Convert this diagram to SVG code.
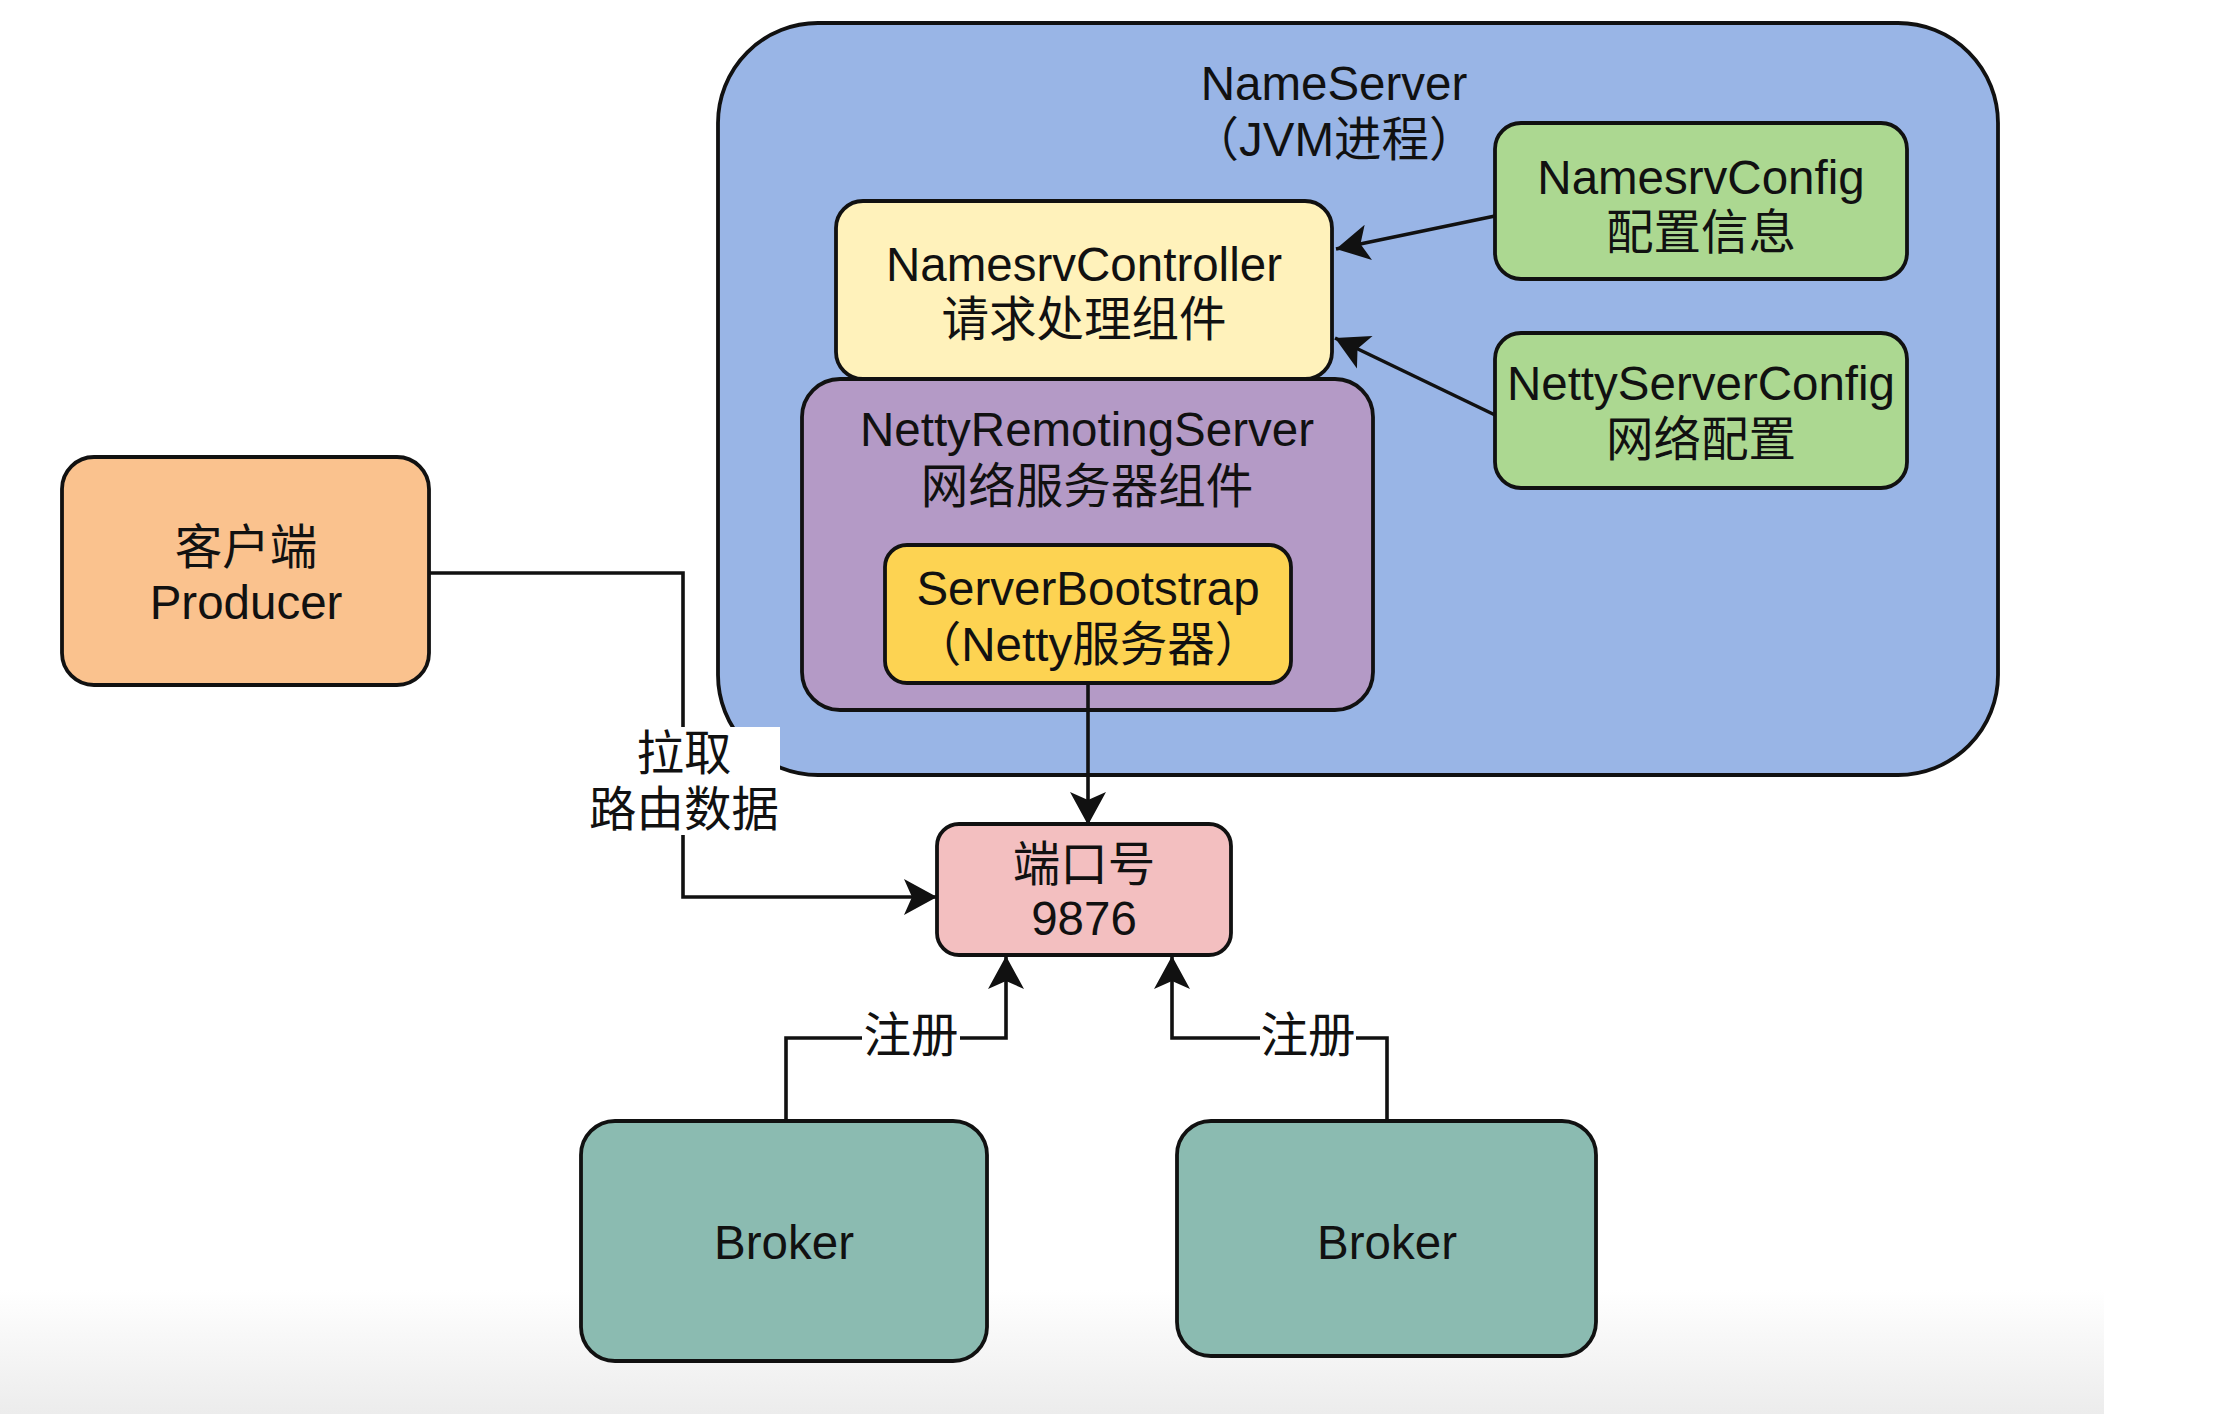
<svg xmlns="http://www.w3.org/2000/svg" width="2222" height="1414" viewBox="0 0 2222 1414">
<defs>
<linearGradient id="bottomfade" x1="0" y1="0" x2="0" y2="1">
<stop offset="0" stop-color="#ffffff"/>
<stop offset="1" stop-color="#ececec"/>
</linearGradient>
<marker id="arr" markerUnits="userSpaceOnUse" markerWidth="38" markerHeight="40" viewBox="0 0 38 40" refX="35" refY="20" orient="auto">
<path d="M35,20 L2,2 L10,20 L2,38 Z" fill="#111"/>
</marker>
<style>
.box{stroke:#111;stroke-width:3.8}
.t{font-family:"Liberation Sans","Noto Sans CJK SC",sans-serif;font-size:47.5px;fill:#111;text-anchor:middle}
.conn{fill:none;stroke:#111;stroke-width:3.6}
.lblbg{fill:#ffffff}
</style>
</defs>
<rect x="0" y="0" width="2222" height="1414" fill="#ffffff"/>
<rect x="0" y="1290" width="2104" height="124" fill="url(#bottomfade)"/>

<g id="nameserver">
<rect class="box" x="718" y="23" width="1280" height="752" rx="100" ry="100" fill="#99b5e6"/>
<text class="t" x="1334" y="100">NameServer</text>
<text class="t" x="1334" y="156">（JVM进程）</text>
</g>

<g id="namesrv-controller">
<rect class="box" x="836" y="201" width="496" height="178" rx="27" ry="27" fill="#fff2bb"/>
<text class="t" x="1084" y="281">NamesrvController</text>
<text class="t" x="1084" y="336">请求处理组件</text>
</g>

<g id="netty-remoting-server">
<rect class="box" x="802" y="379" width="571" height="331" rx="38" ry="38" fill="#b49ac6"/>
<text class="t" x="1087" y="446">NettyRemotingServer</text>
<text class="t" x="1087" y="503">网络服务器组件</text>
</g>

<g id="server-bootstrap">
<rect class="box" x="885" y="545" width="406" height="138" rx="22" ry="22" fill="#fdd352"/>
<text class="t" x="1088" y="605">ServerBootstrap</text>
<text class="t" x="1088" y="661">（Netty服务器）</text>
</g>

<g id="namesrv-config">
<rect class="box" x="1495" y="123" width="412" height="156" rx="26" ry="26" fill="#acd891"/>
<text class="t" x="1701" y="194">NamesrvConfig</text>
<text class="t" x="1701" y="249">配置信息</text>
</g>

<g id="netty-server-config">
<rect class="box" x="1495" y="333" width="412" height="155" rx="26" ry="26" fill="#acd891"/>
<text class="t" x="1701" y="400">NettyServerConfig</text>
<text class="t" x="1701" y="456">网络配置</text>
</g>

<g id="producer">
<rect class="box" x="62" y="457" width="367" height="228" rx="32" ry="32" fill="#fac28e"/>
<text class="t" x="246" y="564">客户端</text>
<text class="t" x="246" y="619">Producer</text>
</g>

<g id="port">
<rect class="box" x="937" y="824" width="294" height="131" rx="22" ry="22" fill="#f3bfc0"/>
<text class="t" x="1084" y="881">端口号</text>
<text class="t" x="1084" y="935">9876</text>
</g>

<g id="broker-1">
<rect class="box" x="581" y="1121" width="406" height="240" rx="34" ry="34" fill="#8bbbb1"/>
<text class="t" x="784" y="1259">Broker</text>
</g>

<g id="broker-2">
<rect class="box" x="1177" y="1121" width="419" height="235" rx="34" ry="34" fill="#8bbbb1"/>
<text class="t" x="1387" y="1259">Broker</text>
</g>

<g id="connectors">
<line class="conn" x1="1495" y1="216" x2="1336" y2="249" marker-end="url(#arr)"/>
<line class="conn" x1="1495" y1="415" x2="1335" y2="338" marker-end="url(#arr)"/>
<line class="conn" x1="1088" y1="683" x2="1088" y2="825" marker-end="url(#arr)"/>
<path class="conn" d="M429,573 H683 V897 H937" marker-end="url(#arr)"/>
<path class="conn" d="M786,1121 V1038 H1006 V956" marker-end="url(#arr)"/>
<path class="conn" d="M1387,1121 V1038 H1172 V956" marker-end="url(#arr)"/>
<rect class="lblbg" x="588" y="727" width="192" height="108"/>
<text class="t" x="684" y="770">拉取</text>
<text class="t" x="684" y="826">路由数据</text>
<rect class="lblbg" x="862" y="1014" width="98" height="48"/>
<text class="t" x="911" y="1052">注册</text>
<rect class="lblbg" x="1260" y="1014" width="96" height="48"/>
<text class="t" x="1308" y="1052">注册</text>
</g>
</svg>
